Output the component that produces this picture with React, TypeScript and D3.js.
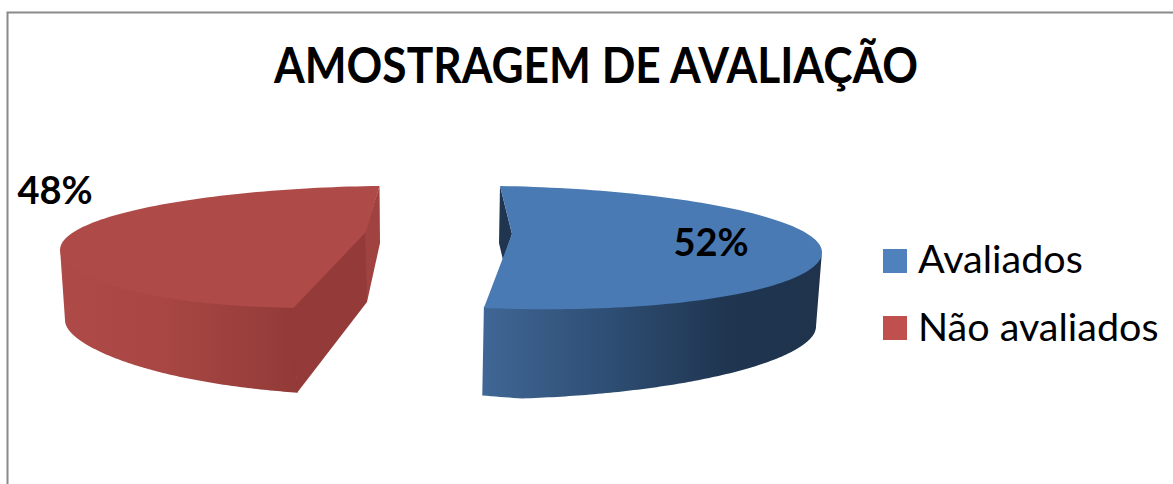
import React from "react";
import * as d3 from "d3";

const categories = ["Avaliados", "Não avaliados"];
const values = [52, 48];
const percentLabels = ["52%", "48%"];
const titleText = "AMOSTRAGEM DE AVALIAÇÃO";

const W = 1173;
const H = 484;
const FONT = "Lato, 'Open Sans', sans-serif";

const legendColors = ["#4f81bd", "#c0504d"];
const topColors = ["#4a7ab3", "#ae4a47"];

// Perspective model of each exploded slice
const views = [
  { cx: 512, cy: 247.5, rx: 310, ry: 61.5, leanTop: -12, leanBot: -11, yLean: 5, depthSide: 74, depthFront: 89.5, dxSide: -6, dxFront: -1 },
  { cx: 366, cy: 247, rx: 306, ry: 61, leanTop: 13.5, leanBot: 35, yLean: -3, depthSide: 70, depthFront: 87, dxSide: 5, dxFront: 4 },
];

type V = (typeof views)[number];
const rimPoint = (v: V, a: number): [number, number] => {
  const s = Math.sin(a), c = Math.cos(a);
  return [v.cx + v.rx * s + (c > 0 ? v.leanTop : v.leanBot) * c * c * c, v.cy - v.ry * c + v.yLean * s];
};
const basePoint = (v: V, a: number): [number, number] => {
  const [x, y] = rimPoint(v, a);
  const t = Math.abs(Math.sin(a));
  return [x + v.dxFront + (v.dxSide - v.dxFront) * t, y + v.depthFront + (v.depthSide - v.depthFront) * t];
};

const pie = d3.pie<number>().sort(null).value((d) => d);
const arcs = pie(values);
const line = d3.line();
const samples = (a0: number, a1: number) => d3.range(0, 121).map((i) => a0 + ((a1 - a0) * i) / 120);
const overlap = ([x, y]: [number, number]): [number, number] => [x, y - 1.5];

export default function App() {
  const [blue, red] = arcs;
  const bv = views[0], rv = views[1];

  const blueRim = samples(blue.startAngle, blue.endAngle).map((a) => rimPoint(bv, a));
  const blueTop = line([[bv.cx, 234], ...blueRim])! + "Z";
  const blueWallAngles = samples(Math.PI * 0.5, blue.endAngle);
  const blueWall = line([
    ...blueWallAngles.map((a) => overlap(rimPoint(bv, a))),
    ...blueWallAngles.slice().reverse().map((a) => basePoint(bv, a)),
  ])! + "Z";
  const blueStart = rimPoint(bv, blue.startAngle);
  const blueInner = line([blueStart, [bv.cx, 234], [503, 260], [499, 243]])! + "Z";

  const redRim = samples(red.startAngle, red.endAngle).map((a) => rimPoint(rv, a));
  const redTop = line([[rv.cx, 232], ...redRim])! + "Z";
  const redWallAngles = samples(red.startAngle, Math.PI * 1.5);
  const redWall = line([
    ...redWallAngles.map((a) => overlap(rimPoint(rv, a))),
    ...redWallAngles.slice().reverse().map((a) => basePoint(rv, a)),
  ])! + "Z";
  const redCut1a = rimPoint(rv, red.startAngle);
  const redCut1b = basePoint(rv, red.startAngle);
  const redInnerFront = line([[rv.cx - 1, 231], [redCut1a[0] - 1, redCut1a[1] - 1], [redCut1b[0] - 0.5, redCut1b[1]], [367, 302]])! + "Z";
  const redEnd = rimPoint(rv, red.endAngle);
  const redInnerBack = line([[rv.cx - 1, 232], redEnd, [380, 243], [367, 302], [365, 302]])! + "Z";

  return (
    <svg width={W} height={H} viewBox={`0 0 ${W} ${H}`} style={{ position: "absolute", left: 0, top: 0, display: "block", background: "#fff" }}>
      <defs>
        <linearGradient id="blueWall" gradientUnits="userSpaceOnUse" x1={485} x2={822} y1={0} y2={0}>
          <stop offset="0" stopColor="#3f6694" />
          <stop offset="0.35" stopColor="#2f4f75" />
          <stop offset="0.72" stopColor="#1f3550" />
          <stop offset="1" stopColor="#1f334c" />
        </linearGradient>
        <linearGradient id="redWall" gradientUnits="userSpaceOnUse" x1={60} x2={298} y1={0} y2={0}>
          <stop offset="0" stopColor="#ae4a47" />
          <stop offset="0.4" stopColor="#a94744" />
          <stop offset="0.75" stopColor="#9c403d" />
          <stop offset="1" stopColor="#923a38" />
        </linearGradient>
      </defs>

      <path d={`M7.5,484 V12.5 H${W}`} fill="none" stroke="#8a8a8a" strokeWidth={2} />

      <text x={274} y={83} textLength={644} lengthAdjust="spacingAndGlyphs" fontFamily={FONT} fontWeight={700} fontSize={50} fill="#000">{titleText}</text>

      <path d={blueWall} fill="url(#blueWall)" />
      <path d={blueInner} fill="#1f3550" />
      <path d={blueTop} fill={topColors[0]} />

      <path d={redWall} fill="url(#redWall)" />
      <path d={redInnerBack} fill="#a0423f" />
      <path d={redInnerFront} fill="#943a38" />
      <path d={redTop} fill={topColors[1]} />

      <text x={711} y={256} textAnchor="middle" fontFamily={FONT} fontWeight={700} fontSize={38} fill="#000">{percentLabels[0]}</text>
      <text x={55} y={204} textAnchor="middle" fontFamily={FONT} fontWeight={700} fontSize={38} fill="#000">{percentLabels[1]}</text>

      {categories.map((c, i) => (
        <g key={c}>
          <rect x={883} y={249 + i * 67} width={24} height={24} fill={legendColors[i]} />
          <text x={918} y={273 + i * 68} fontFamily={FONT} fontSize={39.5} fill="#000">{c}</text>
        </g>
      ))}
    </svg>
  );
}
